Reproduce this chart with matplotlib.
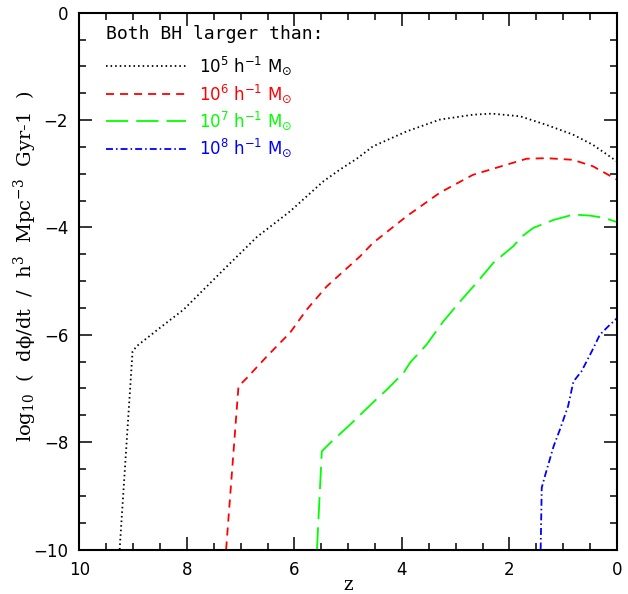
import matplotlib
matplotlib.use("Agg")
import matplotlib.pyplot as plt
from matplotlib.ticker import MultipleLocator

plt.rcParams['font.family'] = ['DejaVu Sans']
plt.rcParams['mathtext.fontset'] = 'dejavusans'
plt.rcParams['lines.scale_dashes'] = False

# data (redshift z, log10 dphi/dt)
z_1e5 = [9.25, 9.01, 8.93, 8.50, 8.06, 7.75, 7.50, 7.32, 6.70, 6.08, 5.77, 5.46, 5.15,
         4.84, 4.54, 3.91, 3.29, 2.68, 2.33, 1.80, 1.31, 0.82, 0.45, 0.0]
y_1e5 = [-10.0, -6.31, -6.21, -5.87, -5.53, -5.22, -4.97, -4.79, -4.18, -3.70, -3.42, -3.14, -2.92,
         -2.72, -2.49, -2.21, -1.99, -1.90, -1.88, -1.93, -2.09, -2.27, -2.46, -2.77]

z_1e6 = [7.27, 7.04, 6.88, 6.51, 6.08, 5.77, 5.40, 5.09, 4.78, 4.54, 3.91, 3.29, 2.68,
         2.05, 1.68, 1.31, 0.82, 0.45, 0.0]
y_1e6 = [-10.0, -6.96, -6.80, -6.40, -5.96, -5.53, -5.10, -4.82, -4.54, -4.29, -3.79, -3.35, -3.02,
         -2.83, -2.72, -2.71, -2.74, -2.86, -3.11]

z_1e7 = [5.58, 5.49, 5.33, 4.96, 4.59, 4.28, 3.97, 3.85, 3.54, 3.23, 2.92, 2.61, 2.30,
         1.93, 1.77, 1.56, 1.18, 0.81, 0.50, 0.25, 0.0]
y_1e7 = [-10.0, -8.17, -8.01, -7.67, -7.31, -7.02, -6.71, -6.52, -6.18, -5.75, -5.38, -5.03, -4.66,
         -4.35, -4.17, -4.01, -3.86, -3.76, -3.78, -3.82, -3.90]

z_1e8 = [1.42, 1.40, 1.34, 1.18, 1.06, 0.91, 0.81, 0.66, 0.47, 0.32, 0.16, 0.0]
y_1e8 = [-10.0, -8.85, -8.63, -8.08, -7.76, -7.33, -6.87, -6.68, -6.31, -6.00, -5.84, -5.69]

labels = [r"10$^{5}$ h$^{-1}$ M$_{\odot}$", r"10$^{6}$ h$^{-1}$ M$_{\odot}$",
          r"10$^{7}$ h$^{-1}$ M$_{\odot}$", r"10$^{8}$ h$^{-1}$ M$_{\odot}$"]
colors = ["black", "#ff0000", "#00ff00", "#0000ff"]
dashes = [(1.1, 2.2), (5.8, 4.3), (16, 5.8), (5, 2.2, 1.1, 2.2)]

fig = plt.figure(figsize=(6.28, 5.94), dpi=100)
ax = fig.add_axes([0.1263, 0.0749, 0.8562, 0.9037])

series = [(z_1e5, y_1e5), (z_1e6, y_1e6), (z_1e7, y_1e7), (z_1e8, y_1e8)]
handles = []
for (zz, yy), lab, c, d in zip(series, labels, colors, dashes):
    ln, = ax.plot(zz, yy, color=c, lw=1.3, dashes=d, label=lab)
    handles.append(ln)

ax.set_xlim(10, 0)
ax.set_ylim(-10, 0)
ax.xaxis.set_major_locator(MultipleLocator(2))
ax.xaxis.set_minor_locator(MultipleLocator(0.5))
ax.yaxis.set_major_locator(MultipleLocator(2))
ax.yaxis.set_minor_locator(MultipleLocator(0.5))
ax.tick_params(which='both', direction='in', top=True, right=True, width=1.1, labelsize=12)
ax.tick_params(which='major', length=9.5, pad=8)
ax.tick_params(which='minor', length=5)
for s in ax.spines.values():
    s.set_linewidth(1.5)

ax.set_xlabel("z", fontsize=13, family='DejaVu Serif')
ax.xaxis.set_label_coords(0.5, -0.05)
ax.set_ylabel("log$_{10}$  (  d\u03d5/dt  /  h$^{3}$  Mpc$^{-3}$  Gyr-1  )", fontsize=14,
              family='DejaVu Serif', math_fontfamily='dejavuserif')
ax.yaxis.set_label_coords(-0.075, 0.527)

ax.text(0.0498, 0.951, "Both BH larger than:", transform=ax.transAxes,
        family='DejaVu Sans Mono', fontsize=13, ha='left', va='baseline')

leg = ax.legend(handles=handles, loc='upper left', frameon=False,
                fontsize=12, handlelength=4.8, handletextpad=0.8, labelspacing=0.3,
                borderaxespad=0, bbox_to_anchor=(0.037, 0.934))
for t, c in zip(leg.get_texts(), colors):
    t.set_color(c)

fig.savefig("out.png", dpi=100)
